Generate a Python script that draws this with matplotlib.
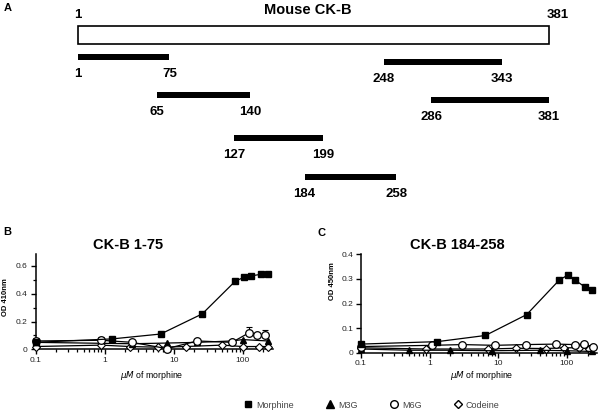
import matplotlib
matplotlib.use("Agg")
import matplotlib.pyplot as plt
from matplotlib.patches import Rectangle
from matplotlib.lines import Line2D
from matplotlib.ticker import FixedLocator, FuncFormatter, LogLocator, NullFormatter, MultipleLocator

plt.rcParams['font.family'] = ['Liberation Sans', 'DejaVu Sans']

# ---------------- data ----------------
protein_len = 381
frag_start = [1, 248, 65, 286, 127, 184]
frag_end = [75, 343, 140, 381, 199, 258]

dose_morphine = [0.1, 1.3, 6.5, 26, 78, 104, 130, 182, 234]

b_morphine = [0.05, 0.075, 0.11, 0.255, 0.49, 0.518, 0.527, 0.54, 0.54]
b_m6g_x = [0.1, 0.9, 2.5, 8, 22, 70, 125, 160, 210]
b_m6g_y = [0.06, 0.065, 0.05, 0.005, 0.06, 0.05, 0.12, 0.10, 0.10]
b_m6g_err = [0.02, 0.02, 0.0, 0.0, 0.0, 0.0, 0.04, 0.0, 0.04]
b_m3g_x = [0.1, 2.5, 8, 22, 70, 100, 230]
b_m3g_y = [0.05, 0.04, 0.045, 0.05, 0.06, 0.07, 0.06]
b_cod_x = [0.1, 0.9, 2.3, 6, 15, 50, 100, 170, 230]
b_cod_y = [0.02, 0.03, 0.02, 0.015, 0.02, 0.03, 0.02, 0.02, 0.02]

c_morphine = [0.035, 0.045, 0.07, 0.155, 0.296, 0.316, 0.296, 0.268, 0.255]
c_m6g_x = [0.1, 1.1, 3, 9, 25, 70, 130, 175, 240]
c_m6g_y = [0.025, 0.03, 0.033, 0.03, 0.033, 0.035, 0.033, 0.035, 0.025]
c_m3g_x = [0.1, 0.5, 2, 8, 40, 100, 230]
c_m3g_y = [0.015, 0.01, 0.01, 0.008, 0.01, 0.008, 0.005]
c_cod_x = [0.1, 0.9, 7, 18, 50, 90, 150, 210]
c_cod_y = [0.02, 0.015, 0.015, 0.018, 0.017, 0.02, 0.02, 0.015]

xticks = [0.1, 1, 10, 100]
xtick_labels = ['0.1', '1', '10', '100']
legend_labels = ['Morphine', 'M3G', 'M6G', 'Codeine']

# ---------------- layout helpers ----------------
W, H = 600, 412
fig = plt.figure(figsize=(6, 4.12), dpi=100)


def box(l, t, r, b):
    return [l / W, 1 - b / H, (r - l) / W, (b - t) / H]


def ftext(x, y, s, **kw):
    fig.text(x / W, 1 - y / H, s, **kw)


# ---------------- panel A ----------------
axA = fig.add_axes(box(0, 0, 600, 210))
px_per_res = 1.241
x0 = 77.5
axA.set_xlim(1 - x0 / px_per_res, 1 + (W - x0) / px_per_res)
axA.set_ylim(210, 0)
axA.axis('off')

axA.add_patch(Rectangle((1, 26), protein_len - 1, 18, facecolor='white',
                        edgecolor='black', lw=1.2))
axA.text(1, 15, '1', ha='center', va='center', fontsize=9.5, fontweight='bold')
axA.text(protein_len + 7, 15, str(protein_len), ha='center', va='center',
         fontsize=9.5, fontweight='bold')

row_y = [57, 62, 95, 100, 138, 177]
bar_h = 6
for s, e, y in zip(frag_start, frag_end, row_y):
    axA.add_patch(Rectangle((s, y - bar_h / 2), e - s, bar_h, facecolor='black',
                            edgecolor='none'))
    axA.text(s, y + 17, str(s), ha='center', va='center', fontsize=9.5,
             fontweight='bold')
    axA.text(e, y + 17, str(e), ha='center', va='center', fontsize=9.5,
             fontweight='bold')

ftext(308, 10, 'Mouse CK-B', ha='center', va='center', fontsize=10.5,
      fontweight='bold')
ftext(8, 8, 'A', ha='center', va='center', fontsize=8, fontweight='bold')
ftext(7, 232, 'B', ha='center', va='center', fontsize=8, fontweight='bold')
ftext(322, 233, 'C', ha='center', va='center', fontsize=8, fontweight='bold')


# ---------------- panels B and C ----------------
def style_axes(ax, ytop, ymajor, yminor):
    ax.set_xscale('log')
    ax.set_xlim(0.1, 275)
    ax.set_ylim(0, ytop)
    for sp in ['top', 'right']:
        ax.spines[sp].set_visible(False)
    for sp in ['left', 'bottom']:
        ax.spines[sp].set_linewidth(1.1)
    ax.xaxis.set_major_locator(FixedLocator(xticks))
    ax.set_xticklabels(xtick_labels)
    ax.xaxis.set_minor_locator(LogLocator(base=10, subs=range(2, 10)))
    ax.xaxis.set_minor_formatter(NullFormatter())
    ax.yaxis.set_major_locator(MultipleLocator(ymajor))
    if yminor:
        ax.yaxis.set_minor_locator(MultipleLocator(yminor))
    ax.yaxis.set_major_formatter(FuncFormatter(lambda v, p: '0' if abs(v) < 1e-9 else f'{v:.1f}'))
    ax.tick_params(which='major', direction='out', length=3.5, width=1.0,
                   labelsize=6, pad=2, colors='black', labelcolor='#222222')
    ax.tick_params(which='minor', direction='out', length=2.2, width=0.9)


def plot_panel(ax, morph, m6x, m6y, m3x, m3y, cx, cy, m6err=None):
    lw = 0.9
    ax.plot(cx, cy, '-D', color='black', lw=lw, ms=3.6, mfc='white', mec='black',
            mew=0.8, clip_on=False, zorder=3)
    ax.plot(m3x, m3y, '-^', color='black', lw=lw, ms=5, mfc='black', mec='black',
            clip_on=False, zorder=4)
    if m6err is not None:
        ax.errorbar(m6x, m6y, yerr=[[0] * len(m6err), m6err], fmt='none',
                    ecolor='black', elinewidth=0.8, capsize=2, capthick=0.8,
                    clip_on=False, zorder=4)
    ax.plot(m6x, m6y, '-o', color='black', lw=lw, ms=5.5, mfc='white', mec='black',
            mew=0.9, clip_on=False, zorder=5)
    ax.plot(dose_morphine, morph, '-s', color='black', lw=lw, ms=4.3, mfc='black',
            mec='black', clip_on=False, zorder=6)


axB = fig.add_axes(box(35.5, 254, 273, 349.3))
style_axes(axB, 0.686, 0.2, 0.1)
plot_panel(axB, b_morphine, b_m6g_x, b_m6g_y, b_m3g_x, b_m3g_y, b_cod_x, b_cod_y,
           m6err=b_m6g_err)

axC = fig.add_axes(box(361, 254.3, 597, 352.7))
style_axes(axC, 0.4, 0.1, None)
plot_panel(axC, c_morphine, c_m6g_x, c_m6g_y, c_m3g_x, c_m3g_y, c_cod_x, c_cod_y)

ftext(128, 245, 'CK-B 1-75', ha='center', va='center', fontsize=10.5,
      fontweight='bold')
ftext(457, 245, 'CK-B 184-258', ha='center', va='center', fontsize=10.5,
      fontweight='bold')
ftext(152, 375, r'$\mu M$ of morphine', ha='center', va='center', fontsize=6.3)
ftext(482, 375, r'$\mu M$ of morphine', ha='center', va='center', fontsize=6.3)
ftext(6, 297, 'OD 410nm', ha='center', va='center', fontsize=5.5,
      fontweight='bold', rotation=90)
ftext(332, 281, 'OD 450nm', ha='center', va='center', fontsize=5.5,
      fontweight='bold', rotation=90)

# ---------------- legend ----------------
handles = [
    Line2D([], [], ls='none', marker='s', ms=4, mfc='black', mec='black'),
    Line2D([], [], ls='none', marker='^', ms=5.5, mfc='black', mec='black'),
    Line2D([], [], ls='none', marker='o', ms=5.5, mfc='white', mec='black', mew=1),
    Line2D([], [], ls='none', marker='D', ms=4, mfc='white', mec='black', mew=1),
]
fig.legend(handles, legend_labels, loc='center', ncol=4, frameon=False,
           bbox_to_anchor=(372 / W, 1 - 405 / H), fontsize=6.5,
           handlelength=0.8, handletextpad=0.5, columnspacing=3.6,
           labelcolor='#444444')

fig.savefig('out.png', dpi=100)
